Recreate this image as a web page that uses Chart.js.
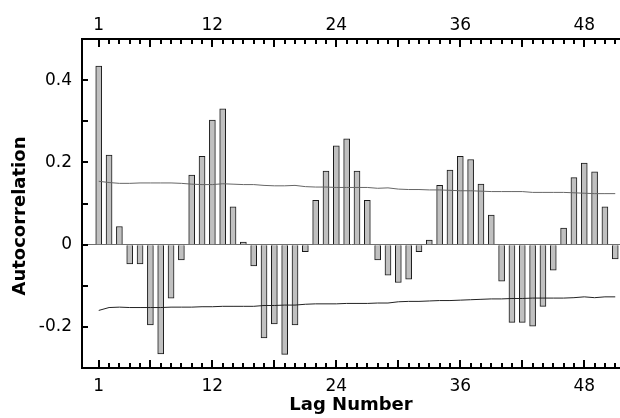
<!DOCTYPE html>
<html>
<head>
<meta charset="utf-8">
<script src="https://cdn.jsdelivr.net/npm/chart.js@4.4.1/dist/chart.umd.min.js"></script>
<style>
  html, body { margin: 0; padding: 0; background: #fff; }
  #wrap { width: 620px; height: 418px; }
</style>
</head>
<body>
<div id="wrap"><canvas id="acf" width="620" height="418"></canvas></div>
<script>
// lags 1..51
const lags = [1,2,3,4,5,6,7,8,9,10,11,12,13,14,15,16,17,18,19,20,21,22,23,24,25,26,27,28,29,30,31,32,33,34,35,36,37,38,39,40,41,42,43,44,45,46,47,48,49,50,51];

const acf = [0.434, 0.218, 0.044, -0.047, -0.047, -0.195, -0.266, -0.130, -0.037, 0.169,
             0.215, 0.303, 0.330, 0.092, 0.006, -0.052, -0.227, -0.193, -0.267, -0.195,
             -0.017, 0.108, 0.179, 0.240, 0.257, 0.179, 0.108, -0.037, -0.074, -0.092,
             -0.084, -0.017, 0.011, 0.144, 0.181, 0.215, 0.207, 0.147, 0.072, -0.089,
             -0.189, -0.189, -0.198, -0.150, -0.062, 0.040, 0.163, 0.198, 0.177, 0.092, -0.035];

// confidence limits
const upperLim = [0.154, 0.151, 0.149, 0.149, 0.150, 0.150, 0.150, 0.150, 0.149, 0.147,
                  0.146, 0.146, 0.148, 0.147, 0.146, 0.146, 0.144, 0.143, 0.143, 0.144,
                  0.141, 0.140, 0.140, 0.139, 0.139, 0.139, 0.139, 0.137, 0.138, 0.135,
                  0.134, 0.134, 0.133, 0.133, 0.132, 0.131, 0.131, 0.130, 0.129, 0.129,
                  0.129, 0.129, 0.127, 0.127, 0.127, 0.127, 0.126, 0.125, 0.124, 0.124, 0.124];
const lowerLim = [-0.160, -0.153, -0.152, -0.153, -0.153, -0.153, -0.153, -0.152, -0.152, -0.152,
                  -0.151, -0.151, -0.150, -0.150, -0.150, -0.150, -0.148, -0.148, -0.147, -0.147,
                  -0.145, -0.144, -0.144, -0.144, -0.143, -0.143, -0.143, -0.142, -0.142, -0.139,
                  -0.138, -0.138, -0.137, -0.136, -0.136, -0.135, -0.134, -0.133, -0.132, -0.132,
                  -0.131, -0.131, -0.130, -0.130, -0.130, -0.130, -0.129, -0.127, -0.129, -0.127, -0.127];

const xTickValues = [1, 12, 24, 36, 48];
const majorLags = [1, 6, 12, 18, 24, 30, 36, 42, 48];
const yTickValues = [-0.2, 0, 0.2, 0.4];
const yTickLabels = ['-0.2', '0', '0.2', '0.4'];
const yMinorTicks = [-0.1, 0.1, 0.3];

const X_MIN = -0.62, X_MAX = 51.46;

Chart.defaults.font.family = "'DejaVu Sans', sans-serif";
Chart.defaults.color = '#000';

// tick marks point inward, so draw them here from the scales
const inwardTicks = {
  id: 'inwardTicks',
  afterDraw(chart) {
    const { ctx, chartArea, scales } = chart;
    const top = Math.round(chartArea.top), bottom = Math.round(chartArea.bottom);
    ctx.save();
    ctx.fillStyle = '#000';
    lags.forEach(v => {
      const x = Math.round(scales.x.getPixelForValue(v)) - 1;
      const len = majorLags.includes(v) ? 8 : 5;
      ctx.fillRect(x, top, 2, len);
      ctx.fillRect(x, bottom - len, 2, len);
    });
    yTickValues.concat(yMinorTicks).forEach(v => {
      const y = Math.round(scales.y.getPixelForValue(v)) - 1;
      ctx.fillRect(chartArea.left, y, 6, 2);
    });
    ctx.restore();
  }
};

const xTicksFixed = s => { s.ticks = xTickValues.map(v => ({ value: v })); };

new Chart(document.getElementById('acf'), {
  type: 'bar',
  data: {
    datasets: [
      {
        type: 'line',
        data: lags.map((l, i) => ({ x: l, y: upperLim[i] })),
        borderColor: '#666',
        borderWidth: 1,
        pointRadius: 0,
        tension: 0,
        order: 0
      },
      {
        type: 'line',
        data: lags.map((l, i) => ({ x: l, y: lowerLim[i] })),
        borderColor: '#222',
        borderWidth: 1,
        pointRadius: 0,
        tension: 0,
        order: 0
      },
      {
        type: 'bar',
        data: lags.map((l, i) => ({ x: l, y: acf[i] })),
        backgroundColor: '#c0c0c0',
        borderColor: '#1a1a1a',
        borderWidth: 1,
        barThickness: 6,
        order: 1
      }
    ]
  },
  options: {
    responsive: false,
    animation: false,
    devicePixelRatio: 1,
    layout: { padding: 0 },
    plugins: { legend: { display: false }, tooltip: { enabled: false } },
    scales: {
      x: {
        type: 'linear',
        position: 'bottom',
        offset: false,
        min: X_MIN,
        max: X_MAX,
        afterBuildTicks: xTicksFixed,
        afterFit: s => { s.height = 50; },
        grid: { display: true, offset: false, color: 'rgba(0,0,0,0)', drawTicks: false },
        border: { display: true, color: '#000', width: 2 },
        ticks: { font: { size: 17 }, padding: 8, maxRotation: 0, callback: v => String(v) },
        title: { display: true, text: 'Lag Number', font: { size: 18, weight: 'bold' }, padding: { top: 0, bottom: 2 } }
      },
      x2: {
        type: 'linear',
        position: 'top',
        offset: false,
        min: X_MIN,
        max: X_MAX,
        afterBuildTicks: xTicksFixed,
        afterFit: s => { s.height = 39; },
        grid: { display: true, offset: false, color: 'rgba(0,0,0,0)', drawTicks: false },
        border: { display: true, color: '#000', width: 2 },
        ticks: { font: { size: 17 }, padding: 3, maxRotation: 0, callback: v => String(v) }
      },
      y: {
        type: 'linear',
        min: -0.3,
        max: 0.5,
        afterBuildTicks: s => { s.ticks = yTickValues.map(v => ({ value: v })); },
        afterFit: s => { s.width = 82; },
        grid: {
          display: true,
          drawTicks: false,
          color: c => (c.tick && c.tick.value === 0 ? '#707070' : 'rgba(0,0,0,0)'),
          lineWidth: 1
        },
        border: { display: true, color: '#000', width: 2 },
        ticks: {
          font: { size: 17 },
          padding: 10,
          callback: v => yTickLabels[yTickValues.indexOf(v)]
        },
        // trailing spaces push the title a little below the axis centre, as in the original
        title: { display: true, text: 'Autocorrelation    ', font: { size: 18, weight: 'bold' }, padding: { top: 10, bottom: 0 } }
      }
    }
  },
  plugins: [inwardTicks]
});
</script>
</body>
</html>
